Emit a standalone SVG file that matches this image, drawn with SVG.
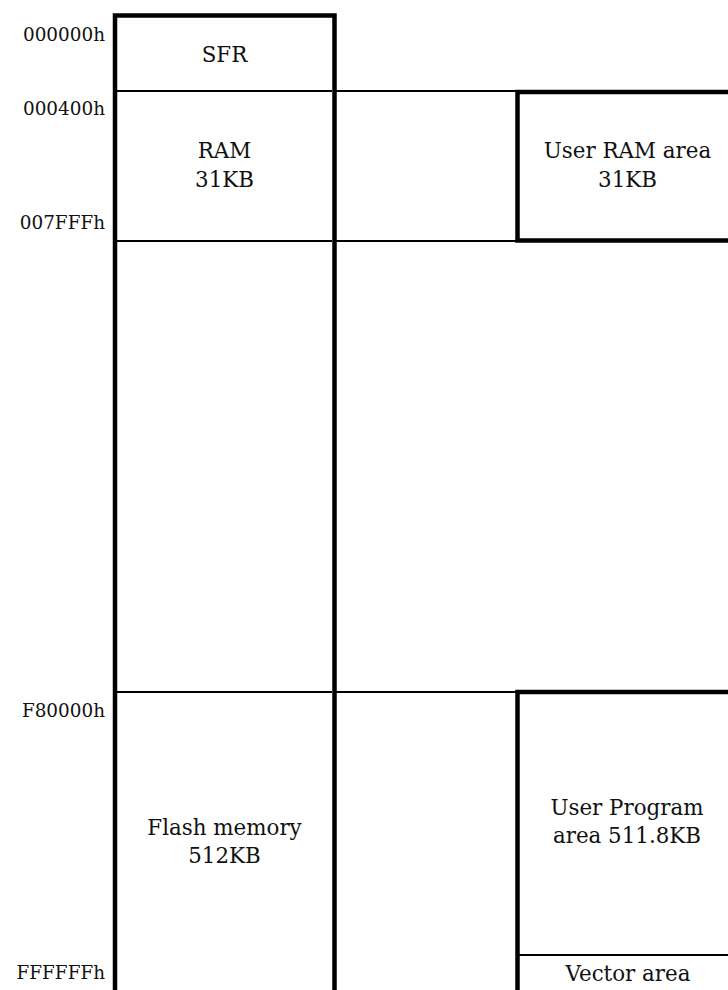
<svg xmlns="http://www.w3.org/2000/svg" width="728" height="990" viewBox="0 0 728 990">
<style>
.bg{fill:#fff}
.thick{fill:none;stroke:#000;stroke-width:4.5}
.thin{stroke:#000;stroke-width:1.8;fill:none}
.node{font-family:"DejaVu Serif","Liberation Serif",serif;font-size:21.4px;fill:#111;text-anchor:middle}
.addr{font-family:"DejaVu Serif","Liberation Serif",serif;font-size:18.4px;fill:#111;text-anchor:end}
</style>
<rect class="bg" x="0" y="0" width="728" height="990"/>
<g id="addresses">
<text class="addr" x="105" y="41">000000h</text>
<text class="addr" x="105" y="115">000400h</text>
<text class="addr" x="105" y="229">007FFFh</text>
<text class="addr" x="105" y="717">F80000h</text>
<text class="addr" x="105" y="979">FFFFFFh</text>
</g>
<g id="memory-map">
<path class="thick" d="M115,995 V15.5 H334.5 V995"/>
<line class="thin" x1="117" y1="91" x2="332" y2="91"/>
<line class="thin" x1="117" y1="241" x2="332" y2="241"/>
<line class="thin" x1="117" y1="692" x2="332" y2="692"/>
</g>
<g id="sfr"><text class="node" x="224.5" y="62">SFR</text></g>
<g id="ram"><text class="node" x="224.5" y="158">RAM</text><text class="node" x="224.5" y="187">31KB</text></g>
<g id="flash"><text class="node" x="224.5" y="835">Flash memory</text><text class="node" x="224.5" y="863">512KB</text></g>
<g id="connectors">
<line class="thin" x1="336" y1="91" x2="517" y2="91"/>
<line class="thin" x1="336" y1="241" x2="517" y2="241"/>
<line class="thin" x1="336" y1="692" x2="517" y2="692"/>
</g>
<g id="user-ram">
<rect class="thick" x="517.5" y="92" width="230" height="148.5"/>
<text class="node" x="627.5" y="158">User RAM area</text>
<text class="node" x="627.5" y="187">31KB</text>
</g>
<g id="user-program">
<path class="thick" d="M517.5,995 V692 H740"/>
<text class="node" x="627" y="815">User Program</text>
<text class="node" x="627" y="843">area 511.8KB</text>
</g>
<g id="vector">
<line class="thin" x1="519" y1="955" x2="728" y2="955"/>
<text class="node" x="628" y="981">Vector area</text>
</g>
</svg>
